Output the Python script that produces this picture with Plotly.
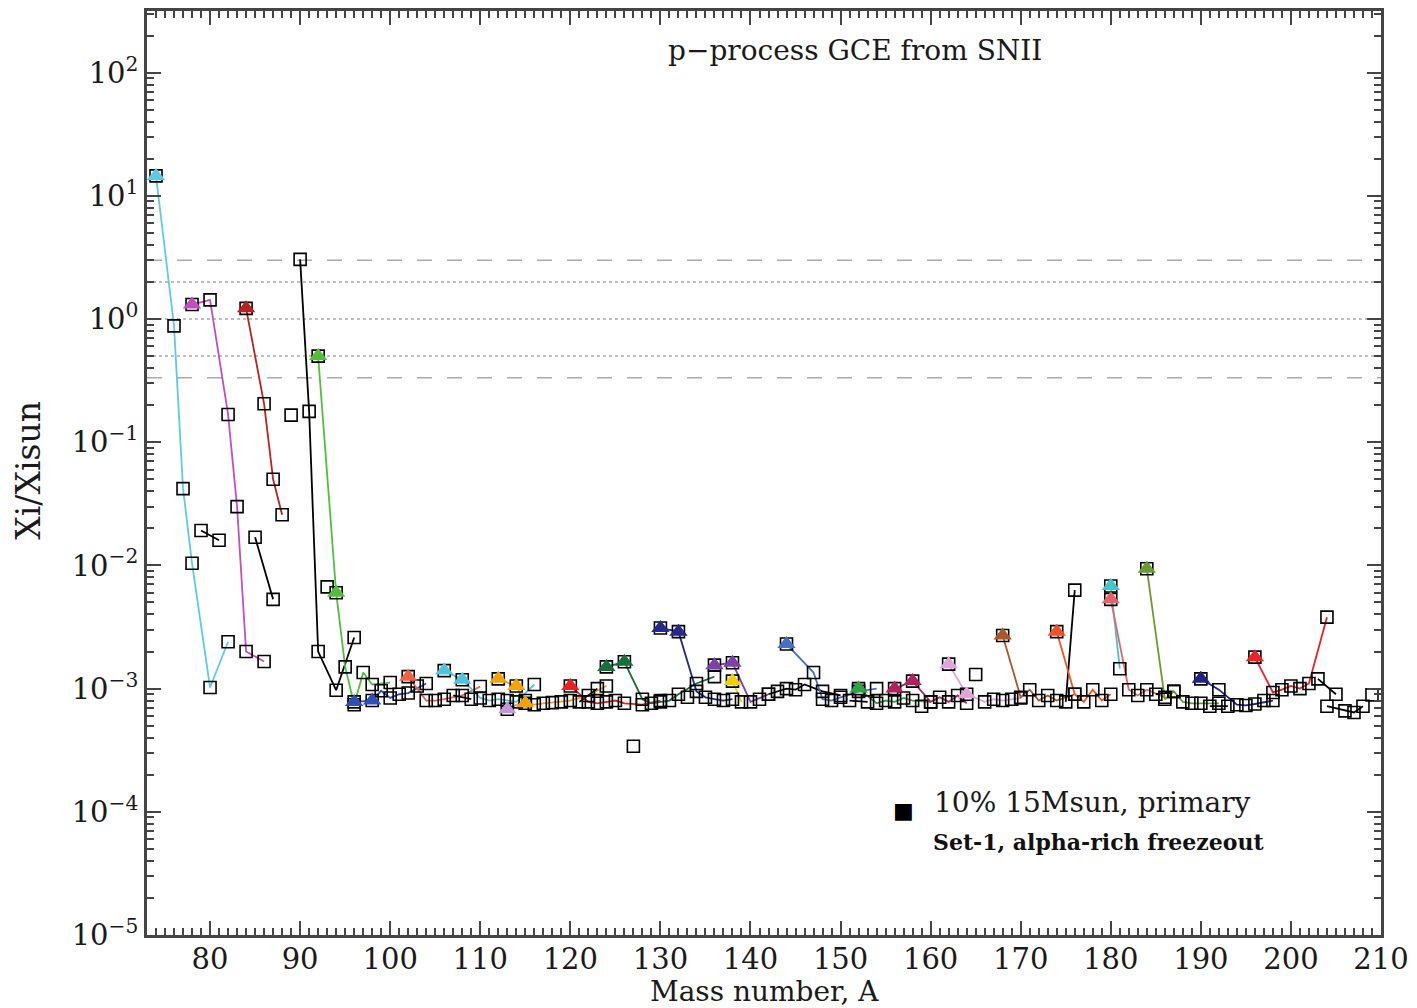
import plotly.graph_objects as go

# ---------------- data ----------------
se_A = [74, 76, 77, 78, 80, 82]; se_v = [14.5, 0.88, 0.042, 0.0104, 0.00102, 0.0024]; se_p = [74]
br_A = [79, 81]; br_v = [0.0192, 0.0160]
kr_A = [78, 80, 82, 83, 84, 86]; kr_v = [1.31, 1.43, 0.168, 0.030, 0.0020, 0.00166]; kr_p = [78]
rb_A = [85, 87]; rb_v = [0.0169, 0.0053]
sr_A = [84, 86, 87, 88]; sr_v = [1.22, 0.205, 0.050, 0.0258]; sr_p = [84]
y_A = [89]; y_v = [0.166]
zr_A = [90, 91, 92, 94, 96]; zr_v = [3.05, 0.178, 0.0020, 0.00097, 0.0026]
nb_A = [93]; nb_v = [0.0067]
mo_A = [92, 94, 95, 96, 97, 98, 100]; mo_v = [0.50, 0.0060, 0.0015, 0.00074, 0.00135, 0.00108, 0.00112]; mo_p = [92, 94]
ru_A = [96, 98, 99, 100, 101, 102, 104]; ru_v = [0.00078, 0.00080, 0.00096, 0.00084, 0.00090, 0.00092, 0.00110]; ru_p = [96, 98]
rh_A = [103]; rh_v = [0.00105]
pd_A = [102, 104, 105, 106, 108, 110]; pd_v = [0.00125, 0.00080, 0.00080, 0.00082, 0.00088, 0.00104]; pd_p = [102]
ag_A = [107, 109]; ag_v = [0.00088, 0.00082]
cd_A = [106, 108, 110, 111, 112, 113, 114, 116]; cd_v = [0.00140, 0.00118, 0.00084, 0.00080, 0.00082, 0.00080, 0.00078, 0.00108]; cd_p = [106, 108]
in_A = [113, 115]; in_v = [0.00068, 0.00080]; in_p = [113]
sn_A = [112, 114, 115, 116, 117, 118, 119, 120, 122, 124]
sn_v = [0.00120, 0.00105, 0.00076, 0.00074, 0.00076, 0.00077, 0.00078, 0.00080, 0.00088, 0.00105]; sn_p = [112, 114, 115]
sb_A = [121, 123]; sb_v = [0.00078, 0.00100]
te_A = [120, 122, 123, 124, 125, 126, 128, 130]; te_v = [0.00105, 0.00078, 0.00076, 0.00078, 0.00080, 0.00076, 0.00074, 0.00080]; te_p = [120]
i_A = [127]; i_v = [0.00034]
xe_A = [124, 126, 128, 129, 130, 131, 132, 134, 136]
xe_v = [0.00150, 0.00165, 0.00082, 0.00076, 0.00078, 0.00080, 0.00090, 0.00110, 0.00125]; xe_p = [124, 126]
cs_A = [133]; cs_v = [0.00085]
ba_A = [130, 132, 134, 135, 136, 137, 138]; ba_v = [0.0031, 0.0029, 0.00095, 0.00085, 0.00082, 0.00080, 0.00082]; ba_p = [130, 132]
la_A = [138, 139]; la_v = [0.00115, 0.00078]; la_p = [138]
ce_A = [136, 138, 140, 142]; ce_v = [0.00155, 0.00162, 0.00078, 0.00090]; ce_p = [136, 138]
pr_A = [141]; pr_v = [0.00082]
nd_A = [142, 143, 144, 145, 146, 148, 150]; nd_v = [0.00090, 0.00095, 0.00100, 0.00098, 0.00108, 0.00095, 0.00088]
sm_A = [144, 147, 148, 149, 150, 152, 154]; sm_v = [0.0023, 0.00135, 0.00082, 0.00080, 0.00085, 0.00095, 0.00100]; sm_p = [144]
eu_A = [151, 153]; eu_v = [0.00080, 0.00078]
gd_A = [152, 154, 155, 156, 157, 158, 160]; gd_v = [0.00100, 0.00076, 0.00080, 0.00078, 0.00084, 0.00080, 0.00078]; gd_p = [152]
tb_A = [159]; tb_v = [0.00072]
dy_A = [156, 158, 160, 161, 162, 163, 164]; dy_v = [0.00100, 0.00115, 0.00078, 0.00085, 0.00078, 0.00088, 0.00076]; dy_p = [156, 158]
ho_A = [165]; ho_v = [0.00130]
er_A = [162, 164, 166, 167, 168, 170]; er_v = [0.00158, 0.00090, 0.00078, 0.00082, 0.00080, 0.00084]; er_p = [162, 164]
tm_A = [169]; tm_v = [0.00082]
yb_A = [168, 170, 171, 172, 173, 174, 176]; yb_v = [0.0027, 0.00085, 0.00098, 0.00080, 0.00088, 0.00080, 0.00090]; yb_p = [168]
lu_A = [175, 176]; lu_v = [0.00078, 0.0063]
hf_A = [174, 176, 177, 178, 179, 180]; hf_v = [0.0029, 0.00090, 0.00078, 0.00098, 0.00080, 0.00090]; hf_p = [174]
ta_A = [180, 181]; ta_v = [0.0068, 0.00145]; ta_p = [180]
w_A = [180, 182, 183, 184, 186]; w_v = [0.0053, 0.00098, 0.00088, 0.00098, 0.00085]; w_p = [180]
re_A = [185, 187]; re_v = [0.00090, 0.00095]
os_A = [184, 186, 187, 188, 189, 190, 192]; os_v = [0.0094, 0.00082, 0.00095, 0.00078, 0.00076, 0.00076, 0.00076]; os_p = [184]
ir_A = [191, 193]; ir_v = [0.00072, 0.00072]
pt_A = [190, 192, 194, 195, 196, 198]; pt_v = [0.00120, 0.00098, 0.00074, 0.00073, 0.00075, 0.00080]; pt_p = [190]
au_A = [197]; au_v = [0.00080]
hg_A = [196, 198, 199, 200, 201, 202, 204]; hg_v = [0.00180, 0.00093, 0.00098, 0.00105, 0.00100, 0.00110, 0.0038]; hg_p = [196]
tl_A = [203, 205]; tl_v = [0.00120, 0.00090]
pb_A = [204, 206, 207, 208]; pb_v = [0.00072, 0.00066, 0.00064, 0.00072]
bi_A = [209]; bi_v = [0.00089]

y_tickvals = [1e-5, 1e-4, 1e-3, 1e-2, 1e-1, 1, 10, 100]
y_ticktext = ["10<sup>−5</sup>", "10<sup>−4</sup>", "10<sup>−3</sup>", "10<sup>−2</sup>",
              "10<sup>−1</sup>", "10<sup>0</sup>", "10<sup>1</sup>", "10<sup>2</sup>"]
x_tickvals = [80, 90, 100, 110, 120, 130, 140, 150, 160, 170, 180, 190, 200, 210]
dashed_levels = [3.0, 1 / 3]
dotted_levels = [2.0, 1.0, 0.5]

# ---------------- element table (A, values, p-nuclei, colour) ----------------
elements = [
    (se_A, se_v, se_p, "#5ccbe3"), (br_A, br_v, [], "black"), (kr_A, kr_v, kr_p, "#c24fc0"),
    (rb_A, rb_v, [], "black"), (sr_A, sr_v, sr_p, "#b5241e"), (y_A, y_v, [], "black"),
    (zr_A, zr_v, [], "black"), (nb_A, nb_v, [], "black"), (mo_A, mo_v, mo_p, "#52bf3a"),
    (ru_A, ru_v, ru_p, "#2f4fb5"), (rh_A, rh_v, [], "black"), (pd_A, pd_v, pd_p, "#f2603c"),
    (ag_A, ag_v, [], "black"), (cd_A, cd_v, cd_p, "#4fc3df"), (in_A, in_v, in_p, "#c796d6"),
    (sn_A, sn_v, sn_p, "#f5a300"), (sb_A, sb_v, [], "black"), (te_A, te_v, te_p, "#ea1f1f"),
    (i_A, i_v, [], "black"), (xe_A, xe_v, xe_p, "#17703a"), (cs_A, cs_v, [], "black"),
    (ba_A, ba_v, ba_p, "#26288a"), (la_A, la_v, la_p, "#f2d000"), (ce_A, ce_v, ce_p, "#7d3fa8"),
    (pr_A, pr_v, [], "black"), (nd_A, nd_v, [], "black"), (sm_A, sm_v, sm_p, "#4470c6"),
    (eu_A, eu_v, [], "black"), (gd_A, gd_v, gd_p, "#2fa243"), (tb_A, tb_v, [], "black"),
    (dy_A, dy_v, dy_p, "#b3215e"), (ho_A, ho_v, [], "black"), (er_A, er_v, er_p, "#e0a3da"),
    (tm_A, tm_v, [], "black"), (yb_A, yb_v, yb_p, "#a8582a"), (lu_A, lu_v, [], "black"),
    (hf_A, hf_v, hf_p, "#f25320"), (ta_A, ta_v, ta_p, "#3fc6cf"), (w_A, w_v, w_p, "#e36464"),
    (re_A, re_v, [], "black"), (os_A, os_v, os_p, "#6a9b2e"), (ir_A, ir_v, [], "black"),
    (pt_A, pt_v, pt_p, "#222283"), (au_A, au_v, [], "black"), (hg_A, hg_v, hg_p, "#f01f24"),
    (tl_A, tl_v, [], "black"), (pb_A, pb_v, [], "black"), (bi_A, bi_v, [], "black"),
]

fig = go.Figure()

# element lines
for A, v, p, col in elements:
    if len(A) > 1:
        fig.add_trace(go.Scatter(x=A, y=v, mode="lines", line=dict(color=col, width=1.8),
                                 showlegend=False, hoverinfo="skip"))

# all isotopes: open squares
all_A = [a for A, v, p, c in elements for a in A]
all_v = [x for A, v, p, c in elements for x in v]
fig.add_trace(go.Scatter(x=all_A, y=all_v, mode="markers",
                         marker=dict(symbol="square-open", size=12, color="black",
                                     line=dict(width=1.6, color="black")),
                         showlegend=False))

# p-nuclei: filled triangles
for A, v, p, col in elements:
    if p:
        px = [a for a in A if a in p]
        py = [val for a, val in zip(A, v) if a in p]
        fig.add_trace(go.Scatter(x=px, y=py, mode="markers",
                                 marker=dict(symbol="triangle-up", size=16, color=col,
                                             line=dict(width=0)),
                                 showlegend=False))

for lv in dashed_levels:
    fig.add_hline(y=lv, line=dict(color="#aaaaaa", width=1.5, dash="longdash"), layer="below")
for lv in dotted_levels:
    fig.add_hline(y=lv, line=dict(color="#aaaaaa", width=1.5, dash="dot"), layer="below")

font_serif = "DejaVu Serif"
axcol = "#444444"
txtcol = "#1a1a1a"

fig.update_xaxes(range=[73, 210], tickvals=x_tickvals, ticks="inside", ticklen=14, tickwidth=1.8,
                 tickcolor=axcol, showline=True, linecolor=axcol, linewidth=2.5, mirror="allticks",
                 showgrid=False, zeroline=False, ticklabeloverflow="allow", ticklabelstandoff=-4,
                 minor=dict(dtick=1, ticks="inside", ticklen=7, tickwidth=1.5, tickcolor=axcol, showgrid=False),
                 tickfont=dict(family=font_serif, size=29, color=txtcol))
fig.update_yaxes(type="log", range=[-5, 2.5], tickvals=y_tickvals, ticktext=y_ticktext,
                 ticks="inside", ticklen=14, tickwidth=1.8, tickcolor=axcol,
                 showline=True, linecolor=axcol, linewidth=2.5, mirror="allticks",
                 showgrid=False, zeroline=False,
                 minor=dict(dtick="D1", ticks="inside", ticklen=7, tickwidth=1.5, tickcolor=axcol, showgrid=False),
                 tickfont=dict(family=font_serif, size=29, color=txtcol))

fig.update_layout(
    width=1417, height=1008,
    margin=dict(l=147, r=30, t=8, b=73),
    plot_bgcolor="white", paper_bgcolor="white",
    showlegend=False,
    annotations=[
        dict(text="Mass number, A", xref="paper", yref="paper", x=0.5, y=-0.0615,
             xanchor="center", yanchor="middle", showarrow=False,
             font=dict(family=font_serif, size=28, color=txtcol)),
        dict(text="Xi/Xisun", xref="paper", yref="paper", x=-0.096, y=0.503, textangle=-90,
             xanchor="center", yanchor="middle", showarrow=False,
             font=dict(family=font_serif, size=33, color=txtcol)),
        dict(text="p−process GCE from SNII", xref="paper", yref="paper", x=0.574, y=0.957,
             xanchor="center", yanchor="middle",
             showarrow=False, font=dict(family=font_serif, size=28, color=txtcol)),
        dict(text="■", xref="paper", yref="paper", x=0.613, y=0.135,
             xanchor="center", yanchor="middle",
             showarrow=False, font=dict(family=font_serif, size=22, color="black")),
        dict(text="10% 15Msun, primary", xref="paper", yref="paper", x=0.636, y=0.143,
             xanchor="left", yanchor="middle",
             showarrow=False, font=dict(family=font_serif, size=28, color=txtcol)),
        dict(text="<b>Set-1, alpha-rich freezeout</b>", xref="paper", yref="paper", x=0.635, y=0.101,
             xanchor="left", yanchor="middle",
             showarrow=False, font=dict(family=font_serif, size=22, color="#111")),
    ],
)

# remove the default 8px page margin so the figure fills the 1417x1008 window exactly
fig.write_html("out.html", config={"displayModeBar": False},
               post_script="document.body.style.margin='0';")
